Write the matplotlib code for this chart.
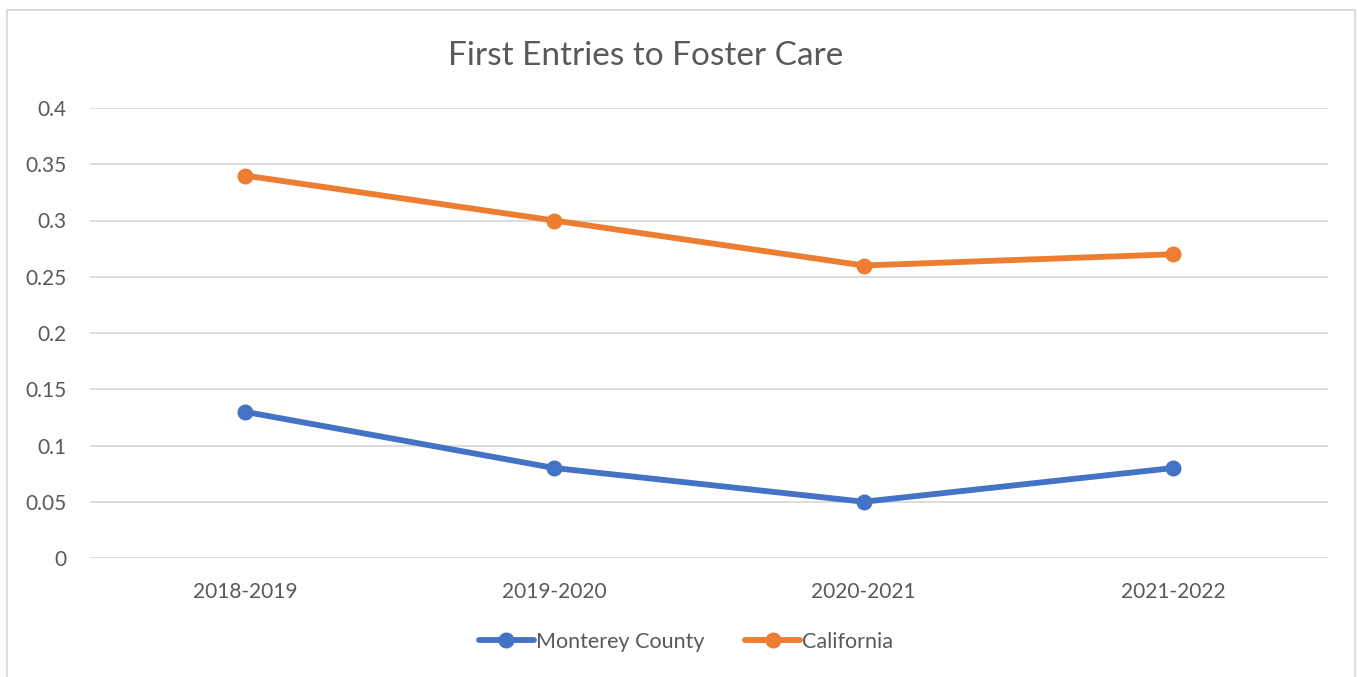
import matplotlib
matplotlib.use("Agg")
import matplotlib.pyplot as plt
from matplotlib.patches import Rectangle

categories = ["2018-2019", "2019-2020", "2020-2021", "2021-2022"]
monterey = [0.13, 0.08, 0.05, 0.08]
california = [0.34, 0.30, 0.26, 0.27]
yticks = [0, 0.05, 0.1, 0.15, 0.2, 0.25, 0.3, 0.35, 0.4]
ytick_labels = ["0", "0.05", "0.1", "0.15", "0.2", "0.25", "0.3", "0.35", "0.4"]

plt.rcParams['font.family'] = ['Lato', 'DejaVu Sans']
W, H = 1357, 677
fig = plt.figure(figsize=(W/100, H/100), dpi=100)
ax = fig.add_axes([90/W, 1-558/H, (1328-90)/W, (558-108)/H])

x = list(range(len(categories)))
ax.plot(x, monterey, color="#4472C4", lw=4.2, marker="o", ms=10.5, label="Monterey County", solid_capstyle="round")
ax.plot(x, california, color="#ED7D31", lw=4.2, marker="o", ms=10.5, label="California", solid_capstyle="round")

ax.set_xlim(-0.5, 3.5)
ax.set_ylim(0, 0.4)
ax.set_yticks(yticks)
ax.set_yticklabels(ytick_labels)
ax.set_xticks(x)
ax.set_xticklabels(categories)
ax.grid(axis="y", color="#D9D9D9", lw=1.3)
ax.set_axisbelow(True)
for s in ax.spines.values():
    s.set_visible(False)
ax.tick_params(length=0, labelsize=15, colors="#595959")
ax.tick_params(axis="y", pad=17)
ax.tick_params(axis="x", pad=17)

fig.text(646/W, 1-56/H, "First Entries to Foster Care", ha="center", va="center",
         fontsize=24, color="#595959")

leg = fig.legend(loc="center", bbox_to_anchor=(686/W, 1-642/H), ncol=2, frameon=False,
                 fontsize=15.5, handlelength=2.55, columnspacing=1.9, handletextpad=0.1)
for t in leg.get_texts():
    t.set_color("#595959")

fig.patches.append(Rectangle((7/W, -0.05), (1355-7)/W, 1-10/H+0.05, transform=fig.transFigure,
                             fill=False, edgecolor="#D9D9D9", lw=1.3))
fig.savefig("out.png", dpi=100)
